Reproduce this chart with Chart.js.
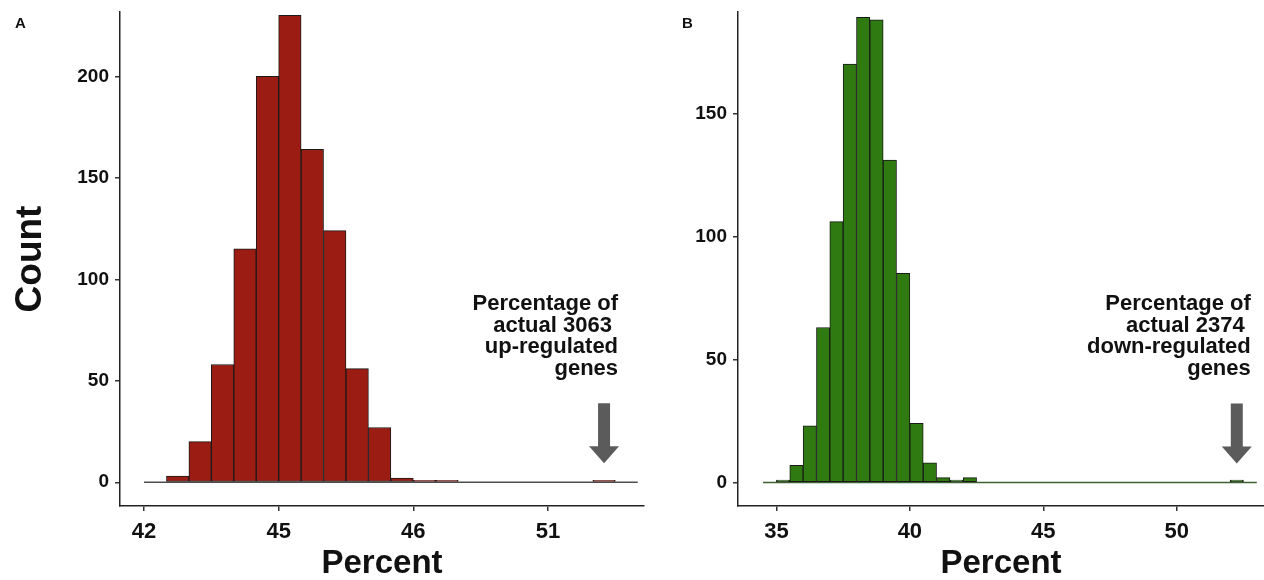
<!DOCTYPE html>
<html>
<head>
<meta charset="utf-8">
<title>Permutation histograms</title>
<script src="https://cdn.jsdelivr.net/npm/chart.js@4/dist/chart.umd.min.js"></script>
<style>
  body { margin: 0; background: #fff; }
  #wrap { position: relative; width: 1264px; height: 580px; overflow: hidden; }
  .panel { position: absolute; top: 0; }
  .tag { position: absolute; top: 14px; font: bold 15px 'Liberation Sans', Arial, sans-serif; color: #111; }
</style>
</head>
<body>
<div id="wrap">
  <div class="panel" style="left:0"><canvas id="chartA" width="650" height="580"></canvas></div>
  <div class="panel" style="left:650px"><canvas id="chartB" width="614" height="580"></canvas></div>
  <div class="tag" style="left:15px">A</div>
  <div class="tag" style="left:682px">B</div>
</div>
<script>
// Panel A - up-regulated genes (bin width 0.5)
const binsA = [42.25, 42.75, 43.25, 43.75, 44.25, 44.75, 45.25, 45.75, 46.25, 46.75, 47.25,
               47.75, 48.25, 48.75, 49.25, 49.75, 50.25, 50.75, 51.25, 51.75, 52.25, 52.75];
const countsA = [0, 3, 20, 58, 115, 200, 230, 164, 124, 56, 27,
                 2, 1, 1, 0, 0, 0, 0, 0, 0, 1, 0];
const xTicksA = [42, 45, 48, 51];
const xLabelsA = ['42', '45', '46', '51'];
const yTicksA = [0, 50, 100, 150, 200];
const actualA = 52.25;
const noteA = ['Percentage of', 'actual 3063 ', 'up-regulated', 'genes'];

// Panel B - down-regulated genes
const binsB = [34.75, 35.25, 35.75, 36.25, 36.75, 37.25, 37.75, 38.25, 38.75, 39.25, 39.75,
               40.25, 40.75, 41.25, 41.75, 42.25, 42.75, 43.25, 43.75, 44.25, 44.75, 45.25,
               45.75, 46.25, 46.75, 47.25, 47.75, 48.25, 48.75, 49.25, 49.75, 50.25, 50.75,
               51.25, 51.75, 52.25, 52.75];
const countsB = [0, 1, 7, 23, 63, 106, 170, 189, 188, 131, 85,
                 24, 8, 2, 1, 2, 0, 0, 0, 0, 0, 0,
                 0, 0, 0, 0, 0, 0, 0, 0, 0, 0, 0,
                 0, 0, 1, 0];
const xTicksB = [35, 40, 45, 50];
const yTicksB = [0, 50, 100, 150];
const actualB = 52.25;
const noteB = ['Percentage of', 'actual 2374 ', 'down-regulated', 'genes'];

const FONT = "'Liberation Sans', Arial, sans-serif";
Chart.defaults.font.family = FONT;
Chart.defaults.color = '#111';

// draws the zero line under the empty bins, plus the arrow and note
function markerPlugin(bins, actual, note, lineColor) {
    return {
        id: 'marker',
        beforeDatasetsDraw(chart) {
            const { ctx, scales: { x, y } } = chart;
            const half = (bins[1] - bins[0]) / 2;
            const y0 = y.getPixelForValue(0);
            ctx.save();
            ctx.strokeStyle = lineColor;
            ctx.lineWidth = 1.5;
            ctx.beginPath();
            ctx.moveTo(x.getPixelForValue(bins[0] - half), y0);
            ctx.lineTo(x.getPixelForValue(bins[bins.length - 1] + half), y0);
            ctx.stroke();
            ctx.restore();
        },
        afterDraw(chart) {
            const { ctx, scales: { x, y } } = chart;
            const cx = x.getPixelForValue(actual);
            const y0 = y.getPixelForValue(0);
            const tip = y0 - 19;
            const headTop = tip - 17;
            const shaftTop = tip - 60;
            ctx.save();
            ctx.fillStyle = '#5b5b5b';
            ctx.fillRect(cx - 6, shaftTop, 12, headTop - shaftTop + 1);
            ctx.beginPath();
            ctx.moveTo(cx - 15, headTop);
            ctx.lineTo(cx + 15, headTop);
            ctx.lineTo(cx, tip);
            ctx.closePath();
            ctx.fill();

            ctx.fillStyle = '#111';
            ctx.font = 'bold 22px ' + FONT;
            ctx.textAlign = 'right';
            ctx.textBaseline = 'alphabetic';
            note.forEach((line, i) => {
                ctx.fillText(line, cx + 14, y0 - 172 + i * 21.5);
            });
            ctx.restore();
        }
    };
}

function makeChart(id, bins, counts, fill, opts) {
    const ctx = document.getElementById(id).getContext('2d');
    return new Chart(ctx, {
        type: 'bar',
        data: {
            datasets: [{
                data: bins.map((b, i) => ({ x: b, y: counts[i] })),
                backgroundColor: fill,
                borderColor: '#1a1a1a',
                borderWidth: 1,
                borderSkipped: false,
                barPercentage: 1,
                categoryPercentage: 1
            }]
        },
        options: {
            responsive: false,
            animation: false,
            layout: { padding: { top: 12, right: opts.padRight, left: 0, bottom: 0 } },
            plugins: { legend: { display: false }, tooltip: { enabled: false } },
            scales: {
                x: {
                    type: 'linear',
                    offset: false,
                    min: opts.xMin,
                    max: opts.xMax,
                    afterBuildTicks: s => { s.ticks = opts.xTicks.map(v => ({ value: v })); },
                    afterFit: s => { s.height = 74; s.paddingLeft = 0; s.paddingRight = 0; },
                    ticks: {
                        autoSkip: false,
                        maxRotation: 0,
                        padding: 8,
                        font: { size: 22, weight: 'bold' },
                        callback: v => opts.xLabels[opts.xTicks.indexOf(v)]
                    },
                    grid: { drawOnChartArea: false, offset: false, tickLength: 5, color: '#333', lineWidth: 1.5 },
                    border: { display: true, color: '#222', width: 1.5 },
                    title: {
                        display: true,
                        text: 'Percent',
                        font: { size: 33, weight: 'bold', lineHeight: 1 },
                        padding: { top: 0, bottom: 0 }
                    }
                },
                y: {
                    min: opts.yMin,
                    max: opts.yMax,
                    afterBuildTicks: s => { s.ticks = opts.yTicks.map(v => ({ value: v })); },
                    afterFit: s => { s.width = opts.yWidth; s.paddingTop = 0; s.paddingBottom = 0; },
                    ticks: { padding: 6, font: { size: 19, weight: 'bold' } },
                    grid: { drawOnChartArea: false, tickLength: 5, color: '#333', lineWidth: 1.5 },
                    border: { display: true, color: '#222', width: 1.5 },
                    title: {
                        display: opts.yTitle !== '',
                        text: opts.yTitle,
                        font: { size: 37, weight: 'bold', lineHeight: 1 },
                        padding: { top: 12, bottom: 0 }
                    }
                }
            }
        },
        plugins: [opts.marker]
    });
}

makeChart('chartA', binsA, countsA, '#9b1c13', {
    xMin: 41.465, xMax: 53.14, xTicks: xTicksA, xLabels: xLabelsA,
    yMin: -11.7, yMax: 231.7, yTicks: yTicksA, yWidth: 120, padRight: 6,
    yTitle: 'Count',
    marker: markerPlugin(binsA, actualA, noteA, '#4d4d4d')
});

makeChart('chartB', binsB, countsB, '#2f7a11', {
    xMin: 33.56, xMax: 53.27, xTicks: xTicksB, xLabels: xTicksB.map(String),
    yMin: -9.55, yMax: 191.2, yTicks: yTicksB, yWidth: 88, padRight: 0,
    yTitle: '',
    marker: markerPlugin(binsB, actualB, noteB, '#3f5f30')
});
</script>
</body>
</html>
